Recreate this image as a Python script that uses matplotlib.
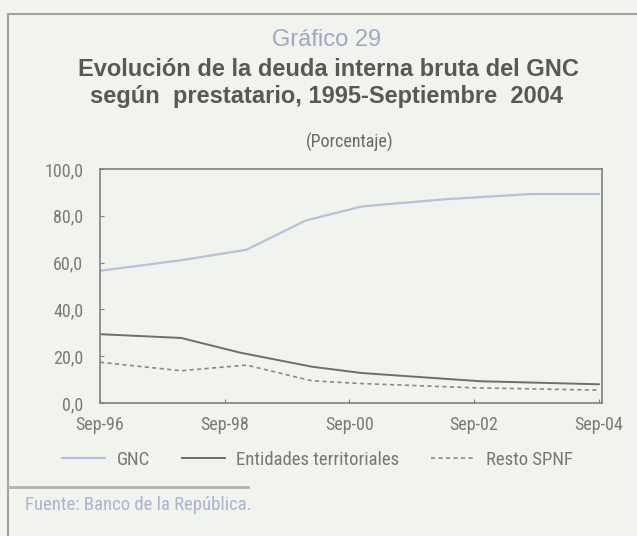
import matplotlib
matplotlib.use("Agg")
import matplotlib.pyplot as plt
from matplotlib.lines import Line2D

# ---- data (x in years since Sep-96) ----
gnc_x = [0.0, 1.3, 2.35, 3.3, 4.2, 5.5, 6.9, 8.0]
gnc_y = [56.5, 61.0, 65.5, 78.0, 84.0, 87.0, 89.3, 89.3]
ent_x = [0.0, 1.3, 2.25, 3.4, 4.2, 6.1, 8.0]
ent_y = [29.4, 27.8, 21.5, 15.5, 12.8, 9.3, 8.0]
res_x = [0.0, 1.3, 2.35, 3.4, 4.2, 6.0, 8.0]
res_y = [17.4, 13.8, 16.2, 9.5, 8.3, 6.5, 5.5]
xtick_pos = [0, 2, 4, 6, 8]
xtick_labels = ["Sep-96", "Sep-98", "Sep-00", "Sep-02", "Sep-04"]
ytick_pos = [0, 20, 40, 60, 80, 100]
ytick_labels = ["0,0", "20,0", "40,0", "60,0", "80,0", "100,0"]

NARROW = ["Roboto Condensed", "DejaVu Sans"]
SANS = ["Liberation Sans", "DejaVu Sans"]

BG = "#f1f3ed"
W, H = 637, 536
fig = plt.figure(figsize=(W / 100, H / 100), dpi=100, facecolor=BG)

def fx(px):
    return px / W

def fy(py):
    return 1 - py / H

# frame
frame_col = "#a0a2a0"
fig.add_artist(Line2D([fx(8), fx(637)], [fy(14), fy(14)], color=frame_col, lw=1.5))
fig.add_artist(Line2D([fx(8), fx(8)], [fy(14), fy(536)], color=frame_col, lw=1.5))
fig.add_artist(Line2D([fx(8), fx(248)], [fy(487), fy(487)], color="#b0b2b0", lw=2))

# texts
fig.text(fx(327), fy(40), "Gráfico 29", ha="center", va="center", fontsize=17,
         color="#9ca8c8", family=SANS)
fig.text(fx(328), fy(70), "Evolución de la deuda interna bruta del GNC", ha="center",
         va="center", fontsize=17, fontweight="bold", color="#585858", family=SANS)
fig.text(fx(327), fy(97), "según  prestatario, 1995-Septiembre  2004", ha="center",
         va="center", fontsize=17, fontweight="bold", color="#585858", family=SANS)
fig.text(fx(350), fy(142), "(Porcentaje)", ha="center", va="center", fontsize=13,
         color="#6a6a6a", family=NARROW)
fig.text(fx(25), fy(505), "Fuente: Banco de la República.", ha="left", va="center",
         fontsize=13.5, color="#a8b4d4", family=NARROW)

ax = fig.add_axes([fx(100), fy(403), fx(602) - fx(100), fy(169) - fy(403)])
ax.set_facecolor(BG)
ax.plot(gnc_x, gnc_y, color="#b8c0de", lw=1.6, label="GNC")
ax.plot(ent_x, ent_y, color="#6e6e6e", lw=1.4, label="Entidades territoriales")
ax.plot(res_x, res_y, color="#8a8a8a", lw=1.2, ls=(0, (2.5, 2)), label="Resto SPNF")

ax.set_xlim(0, 8.05)
ax.set_ylim(0, 100)
ax.set_xticks(xtick_pos)
ax.set_xticklabels(xtick_labels)
ax.set_yticks(ytick_pos)
ax.set_yticklabels(ytick_labels)
for s in ax.spines.values():
    s.set_color("#808080")
    s.set_linewidth(1.2)
ax.tick_params(direction="in", length=3, color="#808080", labelcolor="#7a7a7a",
               labelsize=13)
ax.tick_params(axis="x", pad=9)
ax.tick_params(axis="y", pad=12)
for lab in ax.get_xticklabels() + ax.get_yticklabels():
    lab.set_family(NARROW)

leg = ax.legend(loc="center", bbox_to_anchor=(0.433, -0.243), ncol=3, frameon=False,
                handlelength=2.3, columnspacing=1.7, handletextpad=0.6,
                prop={"family": NARROW, "size": 13.5})
for t in leg.get_texts():
    t.set_color("#777777")

fig.savefig("out.png", dpi=100, facecolor=BG)
